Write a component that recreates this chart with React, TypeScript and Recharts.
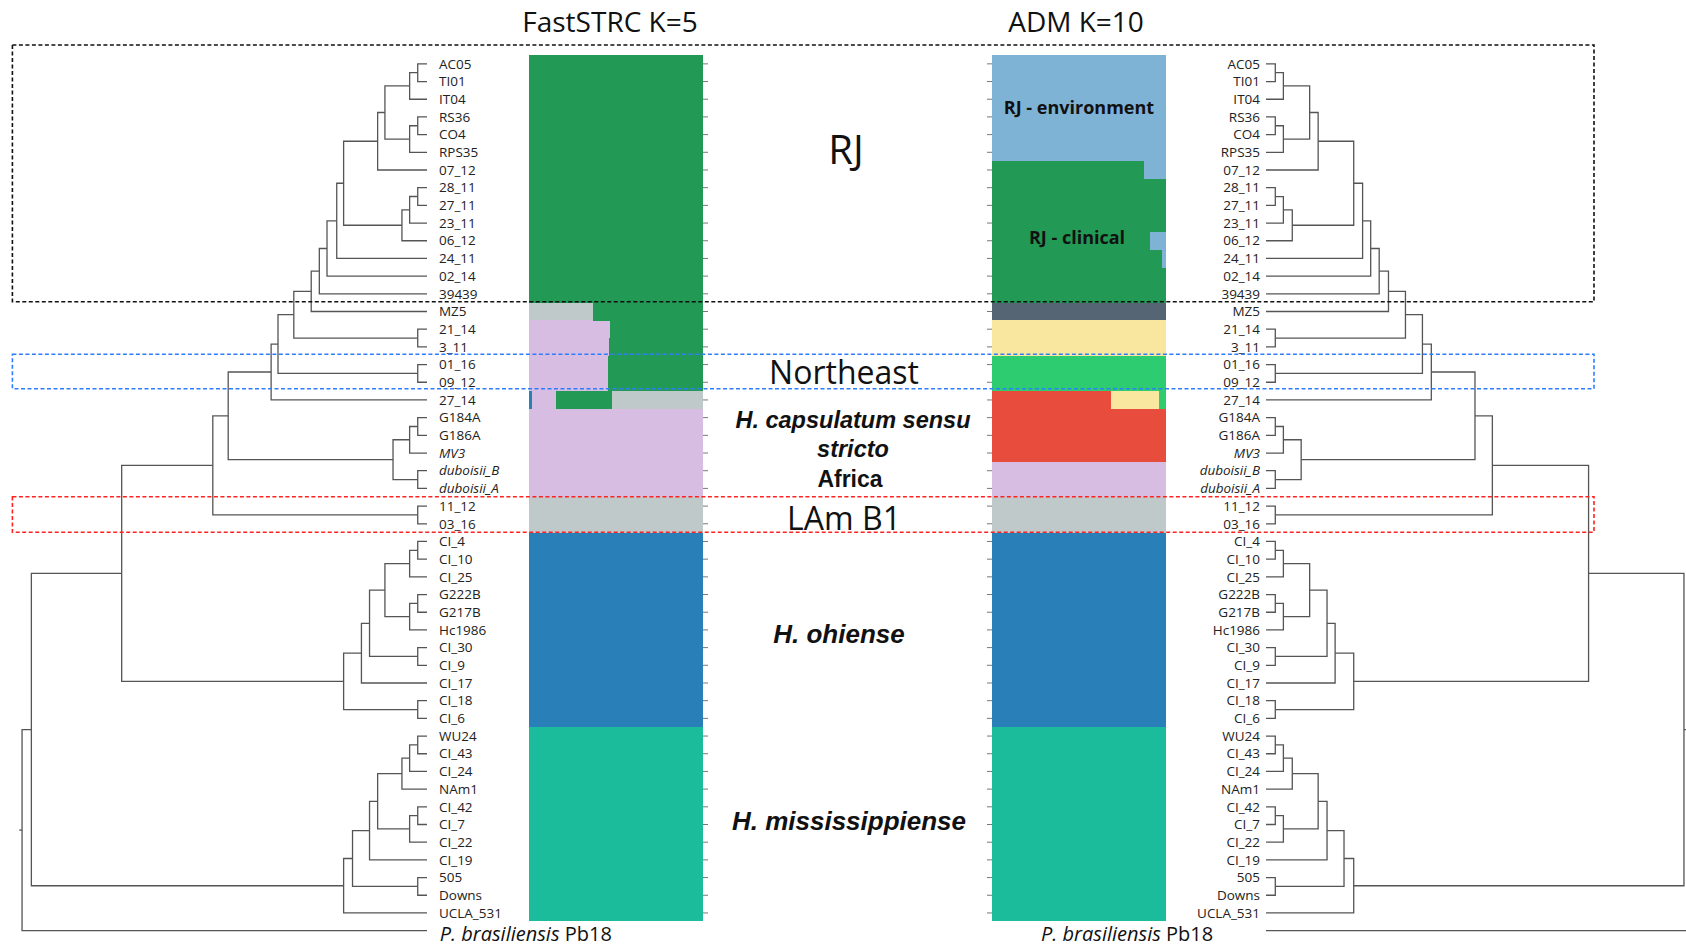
import React from "react";
import { LineChart, Line, XAxis, YAxis, BarChart, Bar, Cell } from "recharts";

// leaf order, top to bottom (shared by both panels)
const samples = [
  "AC05", "TI01", "IT04", "RS36", "CO4", "RPS35", "07_12", "28_11", "27_11", "23_11",
  "06_12", "24_11", "02_14", "39439", "MZ5", "21_14", "3_11", "01_16", "09_12", "27_14",
  "G184A", "G186A", "MV3", "duboisii_B", "duboisii_A", "11_12", "03_16", "CI_4", "CI_10", "CI_25",
  "G222B", "G217B", "Hc1986", "CI_30", "CI_9", "CI_17", "CI_18", "CI_6", "WU24", "CI_43",
  "CI_24", "NAm1", "CI_42", "CI_7", "CI_22", "CI_19", "505", "Downs", "UCLA_531",
];
const italicNames = ["MV3", "duboisii_B", "duboisii_A"];

// FastSTRUCTURE K=5 cluster colours
const fastColors = ["#229954", "#BFC9CA", "#D7BDE2", "#2980B9", "#1ABC9C"];
// ADMIXTURE K=10 cluster colours
const admColors = [
  "#7FB3D5", "#229954", "#566573", "#F9E79F", "#2ECC71",
  "#E74C3C", "#D7BDE2", "#BFC9CA", "#2980B9", "#1ABC9C",
];

// per sample: ordered [cluster, share] segments
const fastQ: [number, number][][] = [
  [[0, 1]], [[0, 1]], [[0, 1]], [[0, 1]], [[0, 1]], [[0, 1]], [[0, 1]],
  [[0, 1]], [[0, 1]], [[0, 1]], [[0, 1]], [[0, 1]], [[0, 1]], [[0, 1]],
  [[1, 0.37], [0, 0.63]],
  [[2, 0.467], [0, 0.533]],
  [[2, 0.462], [0, 0.538]],
  [[2, 0.454], [0, 0.546]],
  [[2, 0.454], [0, 0.546]],
  [[3, 0.02], [2, 0.138], [0, 0.318], [1, 0.524]],
  [[2, 1]], [[2, 1]], [[2, 1]], [[2, 1]], [[2, 1]],
  [[1, 1]], [[1, 1]],
  [[3, 1]], [[3, 1]], [[3, 1]], [[3, 1]], [[3, 1]], [[3, 1]], [[3, 1]], [[3, 1]], [[3, 1]], [[3, 1]], [[3, 1]],
  [[4, 1]], [[4, 1]], [[4, 1]], [[4, 1]], [[4, 1]], [[4, 1]], [[4, 1]], [[4, 1]], [[4, 1]], [[4, 1]], [[4, 1]],
];

const admQ: [number, number][][] = [
  [[0, 1]], [[0, 1]], [[0, 1]], [[0, 1]], [[0, 1]], [[0, 1]],
  [[1, 0.87], [0, 0.13]],
  [[1, 1]], [[1, 1]], [[1, 1]],
  [[1, 0.905], [0, 0.095]],
  [[1, 0.974], [0, 0.026]],
  [[1, 1]], [[1, 1]],
  [[2, 1]],
  [[3, 1]], [[3, 1]],
  [[4, 1]], [[4, 1]],
  [[5, 0.684], [3, 0.271], [4, 0.045]],
  [[5, 1]], [[5, 1]], [[5, 1]],
  [[6, 1]], [[6, 1]],
  [[7, 1]], [[7, 1]],
  [[8, 1]], [[8, 1]], [[8, 1]], [[8, 1]], [[8, 1]], [[8, 1]], [[8, 1]], [[8, 1]], [[8, 1]], [[8, 1]], [[8, 1]],
  [[9, 1]], [[9, 1]], [[9, 1]], [[9, 1]], [[9, 1]], [[9, 1]], [[9, 1]], [[9, 1]], [[9, 1]], [[9, 1]], [[9, 1]],
];

// dendrograms: node height (distance from tips), children are subtrees or leaf row indexes (49 = outgroup)
type TreeNode = number | { h: number; c: [TreeNode, TreeNode] };
const n = (h: number, a: TreeNode, b: TreeNode): TreeNode => ({ h, c: [a, b] });

const leftTree = n(100,
  n(97.7,
    n(75.4,
      n(52.9,
        n(49.1,
          n(38.5,
            n(36.8,
              n(32.9,
                n(28.6,
                  n(26.6, n(24.7, n(22.3, n(20.6,
                    n(12.2, n(10.4, n(4.3, n(2.3, 0, 1), 2), n(4.3, n(2.3, 3, 4), 5)), 6),
                    n(6.2, n(4.3, n(2.3, 7, 8), 9), 10)), 11), 12), 13),
                  14),
                n(2.3, 15, 16)),
              n(2.3, 17, 18)),
            19),
          n(8.4, n(4.3, n(2.3, 20, 21), 22), n(2.3, 23, 24))),
        n(2.3, 25, 26)),
      n(20.6, n(16.2, n(14.2, n(10.4, n(4.3, n(2.3, 27, 28), 29), n(4.3, n(2.3, 30, 31), 32)), n(2.3, 33, 34)), 35), n(2.3, 36, 37))),
    n(20.6, n(18.4, n(14.2, n(12.2, n(6.2, n(4.3, n(2.3, 38, 39), 40), 41), n(4.3, n(2.3, 42, 43), 44)), 45), n(2.3, 46, 47)), 48)),
  49);

const rightTree = n(106,
  n(103.4,
    n(79.8,
      n(56.0,
        n(51.7,
          n(40.9,
            n(38.7,
              n(34.5,
                n(30.3, n(28.0, n(25.9, n(23.9, n(21.7,
                  n(12.9, n(10.8, n(4.3, n(2.3, 0, 1), 2), n(4.3, n(2.3, 3, 4), 5)), 6),
                  n(6.5, n(4.3, n(2.3, 7, 8), 9), 10)), 11), 12), 13), 14),
                n(2.3, 15, 16)),
              n(2.3, 17, 18)),
            19),
          n(8.7, n(4.3, n(2.3, 20, 21), 22), n(2.3, 23, 24))),
        n(2.3, 25, 26)),
      n(21.7, n(17.1, n(15.1, n(10.8, n(4.3, n(2.3, 27, 28), 29), n(4.3, n(2.3, 30, 31), 32)), n(2.3, 33, 34)), 35), n(2.3, 36, 37))),
    n(21.7, n(19.3, n(15.1, n(12.9, n(6.5, n(4.3, n(2.3, 38, 39), 40), 41), n(4.3, n(2.3, 42, 43), 44)), 45), n(2.3, 46, 47)), 48)),
  49);

type Pt = { h: number; y: number };

// turn each internal node into an elbow polyline
function elbows(node: TreeNode, out: Pt[][]): Pt {
  if (typeof node === "number") return { h: 0, y: node };
  const a = elbows(node.c[0], out);
  const b = elbows(node.c[1], out);
  out.push([
    { h: a.h, y: a.y },
    { h: node.h, y: a.y },
    { h: node.h, y: b.y },
    { h: b.h, y: b.y },
  ]);
  return { h: node.h, y: (a.y + b.y) / 2 };
}

const leftSegs: Pt[][] = [];
const leftRoot = elbows(leftTree, leftSegs);
leftSegs.push([{ h: 100, y: leftRoot.y }, { h: 100.7, y: leftRoot.y }]);
const rightSegs: Pt[][] = [];
elbows(rightTree, rightSegs);

function buildRows(q: [number, number][][], colors: string[]) {
  return samples.map((name, i) => {
    const r: any = { name };
    q[i].forEach(([k, v], j) => {
      r["s" + j] = v;
      r["c" + j] = colors[k];
    });
    return r;
  });
}
const fastRows = buildRows(fastQ, fastColors);
const admRows = buildRows(admQ, admColors);

const FONT = "'Open Sans', 'Liberation Sans', sans-serif";
const BOLD_IT = "'Liberation Sans', Arial, sans-serif";
const LINE = "#555";

function LeftLabel(props: any) {
  const { x, y, payload } = props;
  const it = italicNames.includes(payload.value);
  return (
    <text x={x - 90} y={y} dy="0.35em" textAnchor="start" fontSize={13.5} fontFamily={FONT}
      fontStyle={it ? "italic" : "normal"} fill="#222">
      {payload.value}
    </text>
  );
}

function RightLabel(props: any) {
  const { x, y, payload } = props;
  const it = italicNames.includes(payload.value);
  return (
    <text x={x + 93.5} y={y} dy="0.35em" textAnchor="end" fontSize={13.5} fontFamily={FONT}
      fontStyle={it ? "italic" : "normal"} fill="#222">
      {payload.value}
    </text>
  );
}

const NoLabel = () => <g />;

function Tree({ segs, domain, reversed }: { segs: Pt[][]; domain: [number, number]; reversed: boolean }) {
  return (
    <>
      <XAxis type="number" dataKey="h" domain={domain} reversed={reversed} allowDataOverflow hide />
      <YAxis type="number" dataKey="y" domain={[-0.5, 49.5]} reversed allowDataOverflow hide />
      {segs.map((s, i) => (
        <Line key={i} data={s} dataKey="y" type="linear" stroke={LINE} strokeWidth={1.3}
          dot={false} activeDot={false} isAnimationActive={false} />
      ))}
    </>
  );
}

function Admix({ rows }: { rows: any[] }) {
  return [0, 1, 2, 3].map((j) => (
    <Bar key={j} dataKey={"s" + j} stackId="q" yAxisId="lab" isAnimationActive={false} shapeRendering="crispEdges">
      {rows.map((r, i) => (
        <Cell key={i} fill={r["c" + j] ?? "none"} />
      ))}
    </Bar>
  ));
}

export default function App() {
  const abs = (left: number, top: number): React.CSSProperties => ({ position: "absolute", left, top });
  return (
    <div style={{ position: "relative", width: 1686, height: 945, overflow: "hidden", background: "#fff" }}>
      <style>{"body{margin:0}"}</style>

      <div style={abs(17.95, 54.5)}>
        <LineChart width={409.05} height={884.5} margin={{ top: 0, right: 0, bottom: 0, left: 0 }}>
          {Tree({ segs: leftSegs, domain: [0, 101], reversed: true })}
        </LineChart>
      </div>

      <div style={abs(1265.6, 54.5)}>
        <LineChart width={420.4} height={884.5} margin={{ top: 0, right: 0, bottom: 0, left: 0 }}>
          {Tree({ segs: rightSegs, domain: [0, 104], reversed: false })}
        </LineChart>
      </div>

      <div style={abs(429.4, 54.5)}>
        <BarChart width={284} height={866.8} data={fastRows} layout="vertical" barCategoryGap={0} barGap={0}
          margin={{ top: 0, right: 0, bottom: 0, left: 0 }}>
          <XAxis type="number" domain={[0, 1]} hide />
          <YAxis yAxisId="lab" type="category" dataKey="name" orientation="left" width={100}
            interval={0} tickLine={false} axisLine={false} tickSize={0} tickMargin={0} tick={LeftLabel} />
          <YAxis yAxisId="tk" type="category" dataKey="name" orientation="right" width={10}
            interval={0} axisLine={false} tickSize={5} tickLine={{ stroke: "#777" }} tick={NoLabel} />
          {Admix({ rows: fastRows })}
        </BarChart>
      </div>

      <div style={abs(981.5, 54.5)}>
        <BarChart width={284.5} height={866.8} data={admRows} layout="vertical" barCategoryGap={0} barGap={0}
          margin={{ top: 0, right: 0, bottom: 0, left: 0 }}>
          <XAxis type="number" domain={[0, 1]} hide />
          <YAxis yAxisId="tk" type="category" dataKey="name" orientation="left" width={10}
            interval={0} axisLine={false} tickSize={5} tickLine={{ stroke: "#777" }} tick={NoLabel} />
          <YAxis yAxisId="lab" type="category" dataKey="name" orientation="right" width={100}
            interval={0} tickLine={false} axisLine={false} tickSize={0} tickMargin={0} tick={RightLabel} />
          {Admix({ rows: admRows })}
        </BarChart>
      </div>

      <svg width={1686} height={945} style={{ position: "absolute", left: 0, top: 0, pointerEvents: "none" }}>
        <g fill="none" strokeWidth={1.6} strokeDasharray="4 2.5">
          <rect x={12.4} y={45} width={1581.6} height={256.7} stroke="#111" />
          <rect x={12.4} y={354.3} width={1581.6} height={34.4} stroke="#2e7dff" />
          <rect x={12.4} y={496.7} width={1581.6} height={35.6} stroke="#ff2222" />
        </g>
        <g fontFamily={FONT} fill="#111" textAnchor="middle">
          <text x={610} y={32} fontSize={28}>FastSTRC K=5</text>
          <text x={1076} y={32} fontSize={28}>ADM K=10</text>
          <text x={846} y={164} fontSize={40}>RJ</text>
          <text x={1079} y={114} fontSize={18} fontWeight="bold">RJ - environment</text>
          <text x={1077} y={244} fontSize={18} fontWeight="bold">RJ - clinical</text>
          <text x={844} y={384} fontSize={32}>Northeast</text>
          <text x={844} y={530} fontSize={32}>LAm B1</text>
        </g>
        <g fontFamily={BOLD_IT} fill="#111" textAnchor="middle" fontWeight="bold">
          <text x={853} y={428} fontSize={23.5} fontStyle="italic">H. capsulatum sensu</text>
          <text x={853} y={457} fontSize={23.5} fontStyle="italic">stricto</text>
          <text x={850} y={487} fontSize={23}>Africa</text>
          <text x={839} y={643} fontSize={26} fontStyle="italic">H. ohiense</text>
          <text x={849} y={830} fontSize={26} fontStyle="italic">H. mississippiense</text>
        </g>
        <g fontFamily={FONT} fill="#111" fontSize={20}>
          <text x={439.7} y={940.5}>
            <tspan fontStyle="italic">P. brasiliensis</tspan> Pb18
          </text>
          <text x={1041} y={940.5}>
            <tspan fontStyle="italic">P. brasiliensis</tspan> Pb18
          </text>
        </g>
      </svg>
    </div>
  );
}
